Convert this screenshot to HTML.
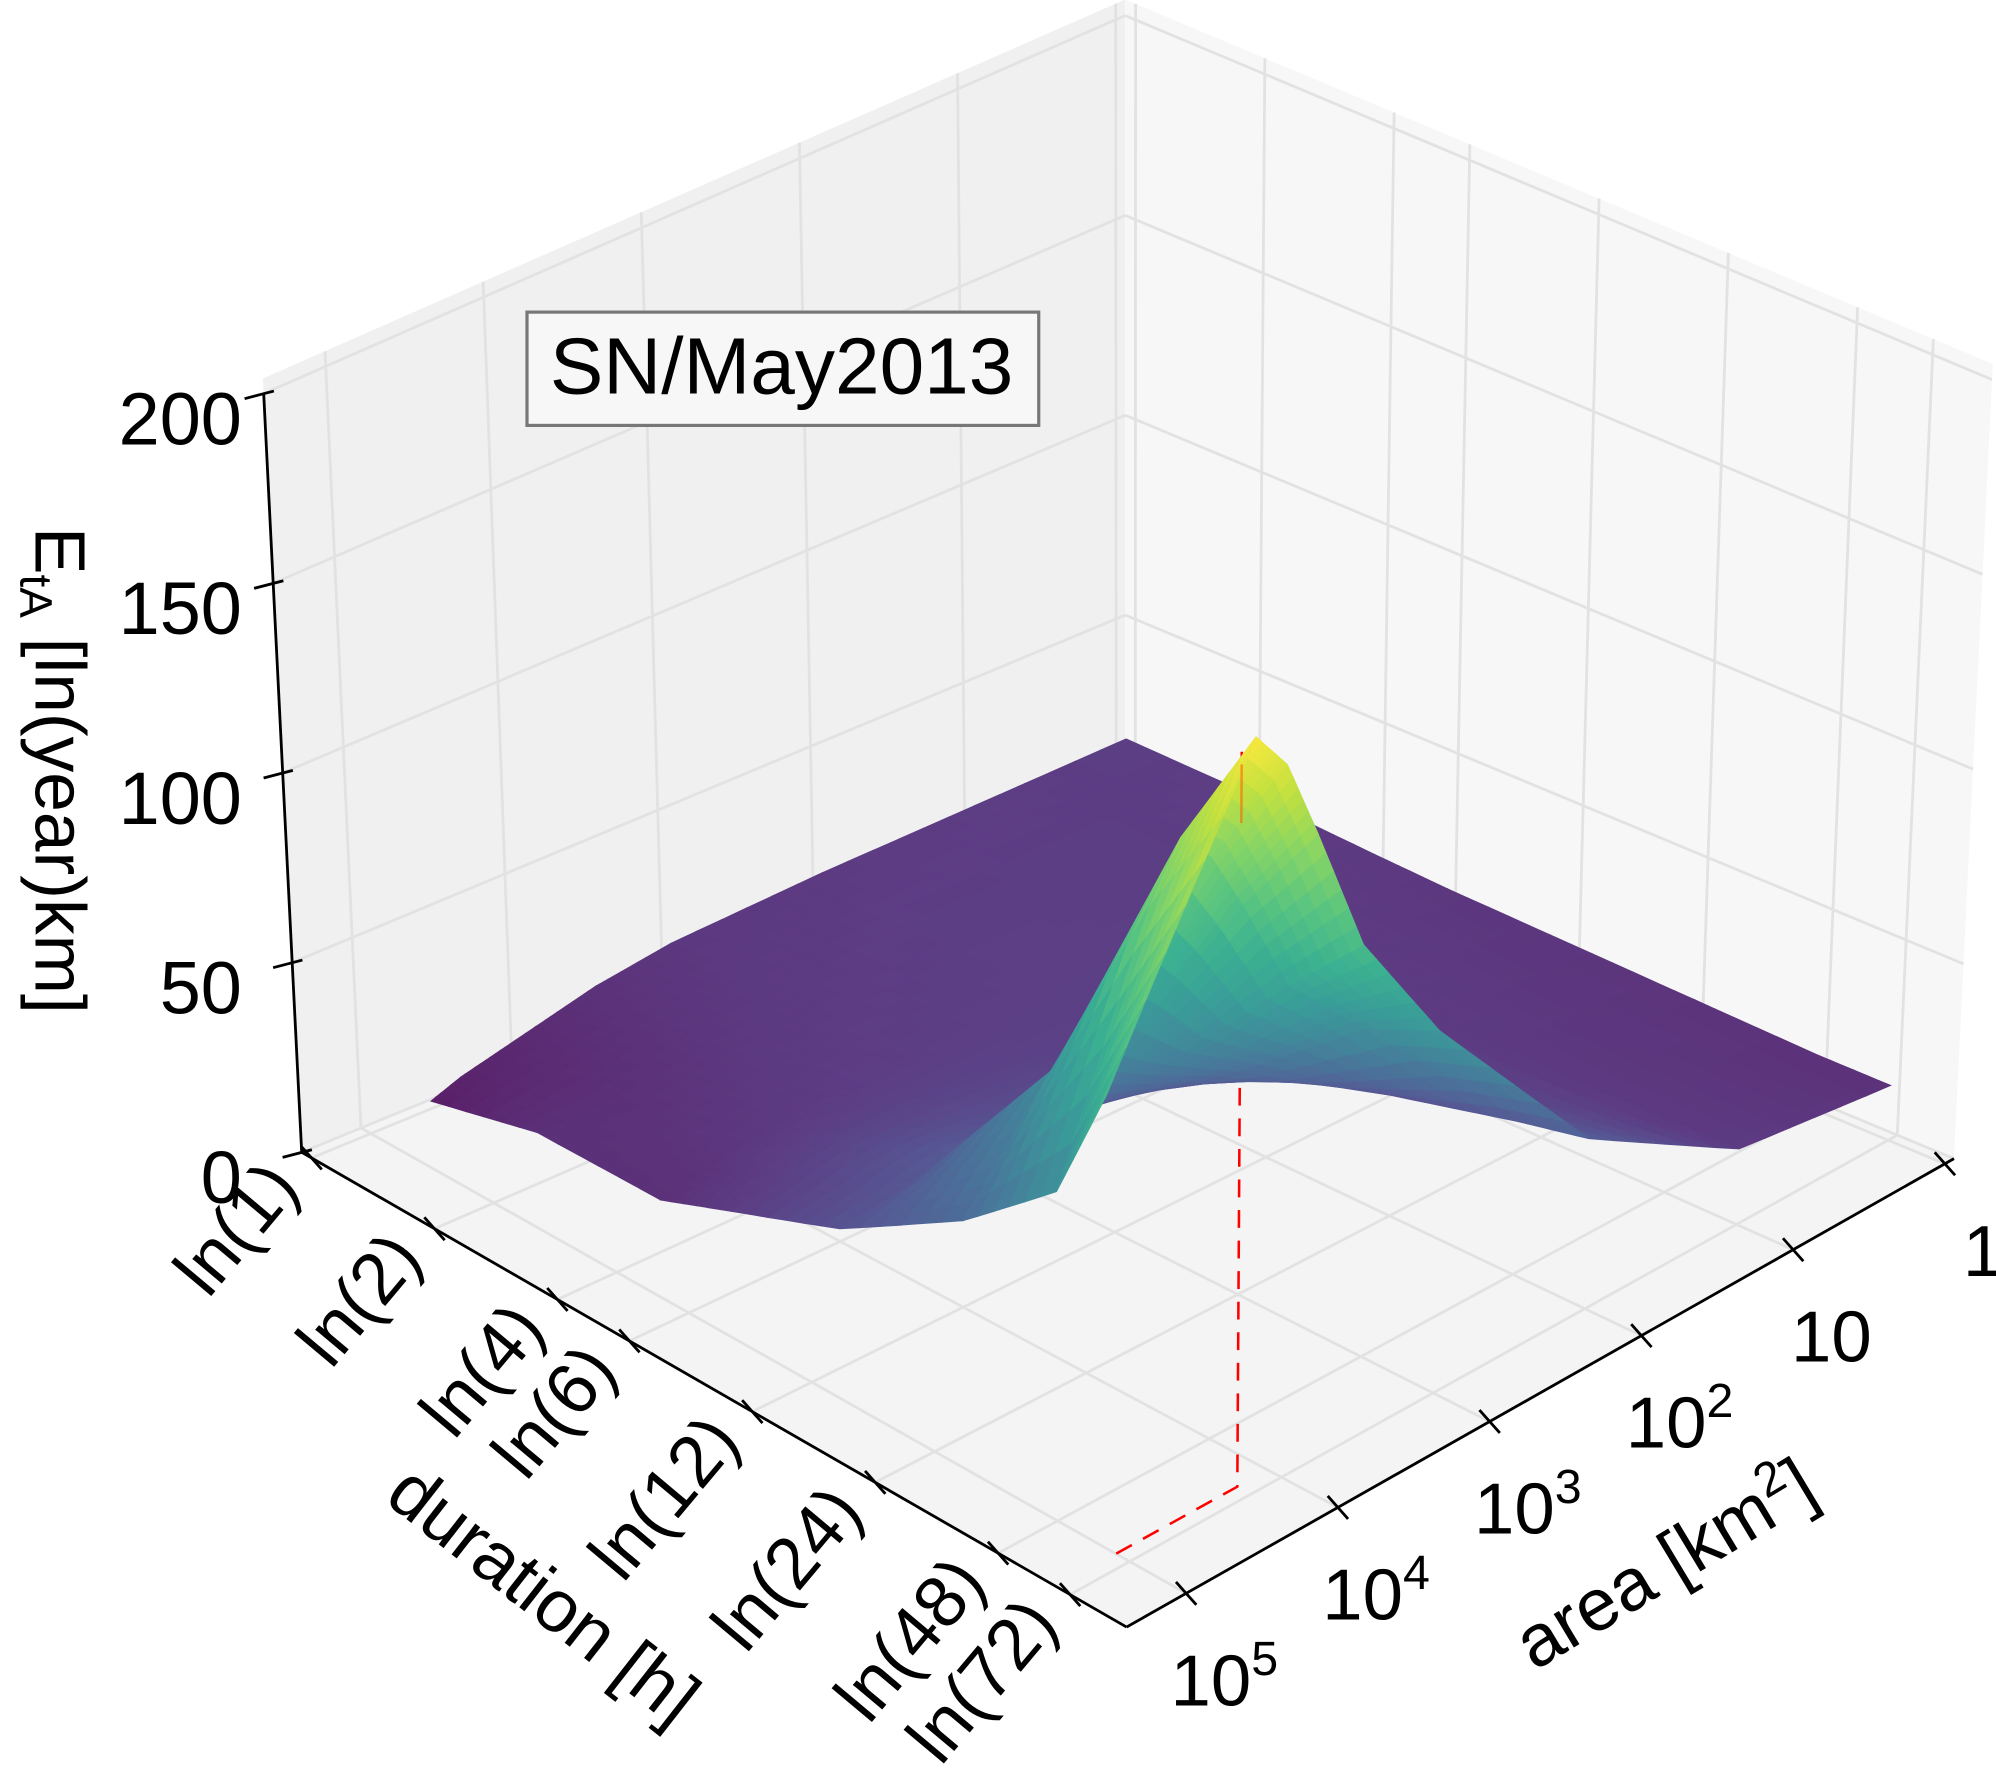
<!DOCTYPE html>
<html><head><meta charset="utf-8"><style>
html,body{margin:0;padding:0;background:#fff;}
svg{display:block;font-family:"Liberation Sans",sans-serif;}
</style></head><body>
<svg id="chart" width="1996" height="1789" viewBox="0 0 1568 1405" xmlns="http://www.w3.org/2000/svg">
<g id="walls"></g>
<g id="grid"></g>
<g id="redline"></g>
<g id="surf"></g>
<g id="axes"></g>
<g>
<rect x="414" y="245" width="402" height="89" fill="#f7f7f7" stroke="#777" stroke-width="2.5"/>
<text x="614" y="309" font-size="63" text-anchor="middle" fill="#000">SN/May2013</text>
</g>
<text transform="translate(28,605) rotate(90)" font-size="56" text-anchor="middle">E<tspan font-size="36" dy="12">tA</tspan><tspan dy="-12"> [ln(year)km]</tspan></text>
<text transform="translate(415,1268) rotate(38)" font-size="58" text-anchor="middle">duration  [h]</text>
<text transform="translate(1318,1245) rotate(-31)" font-size="58" text-anchor="middle">area [km<tspan font-size="38" dy="-22">2</tspan><tspan dy="22">]</tspan></text>
</svg>
<script>
// ---- data ----
const durationLabels = ["ln(1)","ln(2)","ln(4)","ln(6)","ln(12)","ln(24)","ln(48)","ln(72)"];
const durationLn = [0, 0.693, 1.386, 1.792, 2.485, 3.178, 3.871, 4.277];
const areaTickLog = [0, 1, 2, 3, 4, 5];
const areaTickLabels = ["1","10","10^2","10^3","10^4","10^5"];
const zTicks = [0, 50, 100, 150, 200];
const gridLnD = [0, 0.693, 1.386, 1.792, 2.485, 3.178, 3.871, 4.277];
const gridLogA = [0, 1, 2, 3, 3.5, 3.8, 4.0, 4.2, 4.4];
const rowLogAMax = [4.6, 4.7, 4.7, 4.7, 4.8, 4.8, 5.0, 5.15];
const zRow0 = [21,20,19,17,14,11,9,7,5,2];
const zRow1 = [20,21,21,19,17,15,14,13,13,13];
const zRow2 = [18,21,22,21,20,19,18,17,15,13];
const zRow3 = [17,20,22,24,25,25,25,24,22,20];
const zRow4 = [16,19,25,33,36,38,39,38,36,34];
const zRow5 = [15,18,30,55,66,74,78,78,70,52];
const zRow6 = [14,18,38,80,100,125,140,148,135,78];
const zRow7 = [14,19,42,88,118,150,170,180,165,112];
const zGrid = [zRow0,zRow1,zRow2,zRow3,zRow4,zRow5,zRow6,zRow7];
const peakLnD = 4.2, peakLogA = 4.2, dashEndLogA = 5;

// ---- projection ----
const NS="http://www.w3.org/2000/svg";
const Lc=[237,905],F=[885,1278],R=[1535,910],Bk=[884,640];
const sL=2.98,sF=3.4,sR=3.06,sB=3.14;
const ZTOP=204;
function aOf(l){return 0.012+0.215*l;}
function bOf(g){return 0.989-0.1834*g;}
function P(a,b,z){
  const w1=(1-a)*(1-b),w2=a*(1-b),w3=a*b,w4=(1-a)*b;
  let x=w1*Lc[0]+w2*F[0]+w3*R[0]+w4*Bk[0];
  let y=w1*Lc[1]+w2*F[1]+w3*R[1]+w4*Bk[1];
  const s=w1*sL+w2*sF+w3*sR+w4*sB;
  x+= (x-886)*0.00023*z;
  y-= s*z;
  return [x,y];
}
function el(tag,attrs,parent){const e=document.createElementNS(NS,tag);for(const k in attrs)e.setAttribute(k,attrs[k]);parent.appendChild(e);return e;}
function pts(arr){return arr.map(p=>p[0].toFixed(1)+","+p[1].toFixed(1)).join(" ");}

// ---- panes ----
const walls=document.getElementById('walls');
let w=el('polygon',{points:pts([P(0,0,0),P(0,1,0),P(0,1,ZTOP),P(0,0,ZTOP)]),fill:'#f0f0f0'},walls);


w=el('polygon',{points:pts([P(0,1,0),P(1,1,0),P(1,1,ZTOP),P(0,1,ZTOP)]),fill:'#f7f7f7'},walls);


w=el('polygon',{points:pts([P(0,0,0),P(1,0,0),P(1,1,0),P(0,1,0)]),fill:'#f4f4f4'},walls);



const grid=document.getElementById('grid');
const gs={stroke:'#e2e2e2','stroke-width':2.2,fill:'none'};
function gl(p,q){const l=el('line',Object.assign({x1:p[0],y1:p[1],x2:q[0],y2:q[1]},gs),grid);}
durationLn.forEach(l=>{const a=aOf(l);gl(P(a,0,0),P(a,1,0));gl(P(a,1,0),P(a,1,ZTOP));});
areaTickLog.forEach(g=>{const b=bOf(g);gl(P(0,b,0),P(1,b,0));gl(P(0,b,0),P(0,b,ZTOP));});
zTicks.forEach(z=>{gl(P(0,0,z),P(0,1,z));gl(P(0,1,z),P(1,1,z));});

// ---- red dashed marker ----
const rl=document.getElementById('redline');
const pa=aOf(peakLnD),pb=bOf(peakLogA);
const pk=P(pa,pb,0),pend=P(pa,bOf(dashEndLogA),0);
let r=el('polyline',{points:pts([P(pa,pb,175),pk,pend]),fill:'none',stroke:'#f00','stroke-width':2,'stroke-dasharray':'14,10'},rl);



// ---- surface ----
const vir=[[68,1,84],[72,35,116],[64,67,135],[52,94,141],[41,120,142],[32,144,140],[34,167,132],[68,190,112],[121,209,81],[189,222,38],[253,231,37]];
function col(t){t=Math.max(0,Math.min(1,t));const f=t*(vir.length-1),i=Math.min(vir.length-2,Math.floor(f)),u=f-i;
 const c=vir[i].map((v,k)=>Math.round((v+(vir[i+1][k]-v)*u)*0.88+245*0.12));return 'rgb('+c.join(',')+')';}
function colLog(i,j){return j<gridLogA.length?gridLogA[j]:rowLogAMax[i];}
let zmin=Infinity,zmax=-Infinity;zGrid.forEach(r=>r.forEach(z=>{zmin=Math.min(zmin,z);zmax=Math.max(zmax,z);}));
const SUB=6,quads=[];
const NC=gridLogA.length+1;
for(let i=0;i<gridLnD.length-1;i++)for(let j=0;j<NC-1;j++){
  for(let si=0;si<SUB;si++)for(let sj=0;sj<SUB;sj++){
    const c=[[si/SUB,sj/SUB],[(si+1)/SUB,sj/SUB],[(si+1)/SUB,(sj+1)/SUB],[si/SUB,(sj+1)/SUB]].map(([u,v])=>{
      const l=gridLnD[i]+(gridLnD[i+1]-gridLnD[i])*u;
      const g0=colLog(i,j)+(colLog(i,j+1)-colLog(i,j))*v;
      const g1=colLog(i+1,j)+(colLog(i+1,j+1)-colLog(i+1,j))*v;
      const g=g0*(1-u)+g1*u;
      const z=(1-u)*(1-v)*zGrid[i][j]+u*(1-v)*zGrid[i+1][j]+(1-u)*v*zGrid[i][j+1]+u*v*zGrid[i+1][j+1];
      const a=aOf(l),b=bOf(g);return {a,b,z,p:P(a,b,z)};});
    const za=(c[0].z+c[1].z+c[2].z+c[3].z)/4;
    const am=(c[0].a+c[2].a)/2,bm=(c[0].b+c[2].b)/2;
    quads.push({d:am+(1-bm),pts:c.map(q=>q.p),z:za});
  }
}
quads.sort((x,y)=>x.d-y.d);
const surf=document.getElementById('surf');
quads.forEach(q=>{const cc=col((q.z-zmin)/(zmax-zmin));
  const p=el('polygon',{points:pts(q.pts),fill:cc,stroke:cc,'stroke-width':0.8},surf);
  
  });
r=el('line',{x1:P(pa,pb,172)[0],y1:P(pa,pb,172)[1],x2:P(pa,pb,158)[0],y2:P(pa,pb,158)[1],stroke:'#f60','stroke-width':2,opacity:0.6},surf);



// ---- axes ----
const ax=document.getElementById('axes');
const ls={stroke:'#000','stroke-width':2.2};
function ln(p,q,name){const l=el('line',Object.assign({x1:p[0],y1:p[1],x2:q[0],y2:q[1]},ls),ax);}
ln(P(0,0,0),P(1,0,0),'duration-axis-line');
ln(P(1,0,0),P(1,1,0),'area-axis-line');
ln(P(0,0,0),P(0,0,200),'z-axis-line');
durationLn.forEach((l,k)=>{const a=aOf(l);const p=P(a,0,0);
  ln([p[0]-8,p[1]-9],[p[0]+8,p[1]+9],'duration-tick');
  const t=el('text',{transform:`translate(${p[0]-8},${p[1]+24}) rotate(-50)`,'font-size':57,'text-anchor':'end'},ax);
  t.textContent=durationLabels[k];
  
  });
areaTickLog.forEach((g,k)=>{const b=bOf(g);const p=P(1,b,0);
  ln([p[0]-8,p[1]-9],[p[0]+8,p[1]+9],'area-tick');
  const t=el('text',{x:p[0]+30,y:p[1]+88,'font-size':57,'text-anchor':'middle'},ax);
  const lab=areaTickLabels[k];
  if(lab.indexOf('^')>0){const [base,ex]=lab.split('^');t.textContent=base;const s=el('tspan',{'font-size':38,dy:-24},t);s.textContent=ex;}
  else t.textContent=lab;
  
  });
zTicks.forEach(z=>{const p=P(0,0,z);
  ln([p[0]-15,p[1]+4],[p[0]+8,p[1]-2],'z-tick');
  const t=el('text',{x:190,y:p[1]+40,'font-size':58,'text-anchor':'end'},ax);
  t.textContent=String(z);
  
  });
</script>
</body></html>
